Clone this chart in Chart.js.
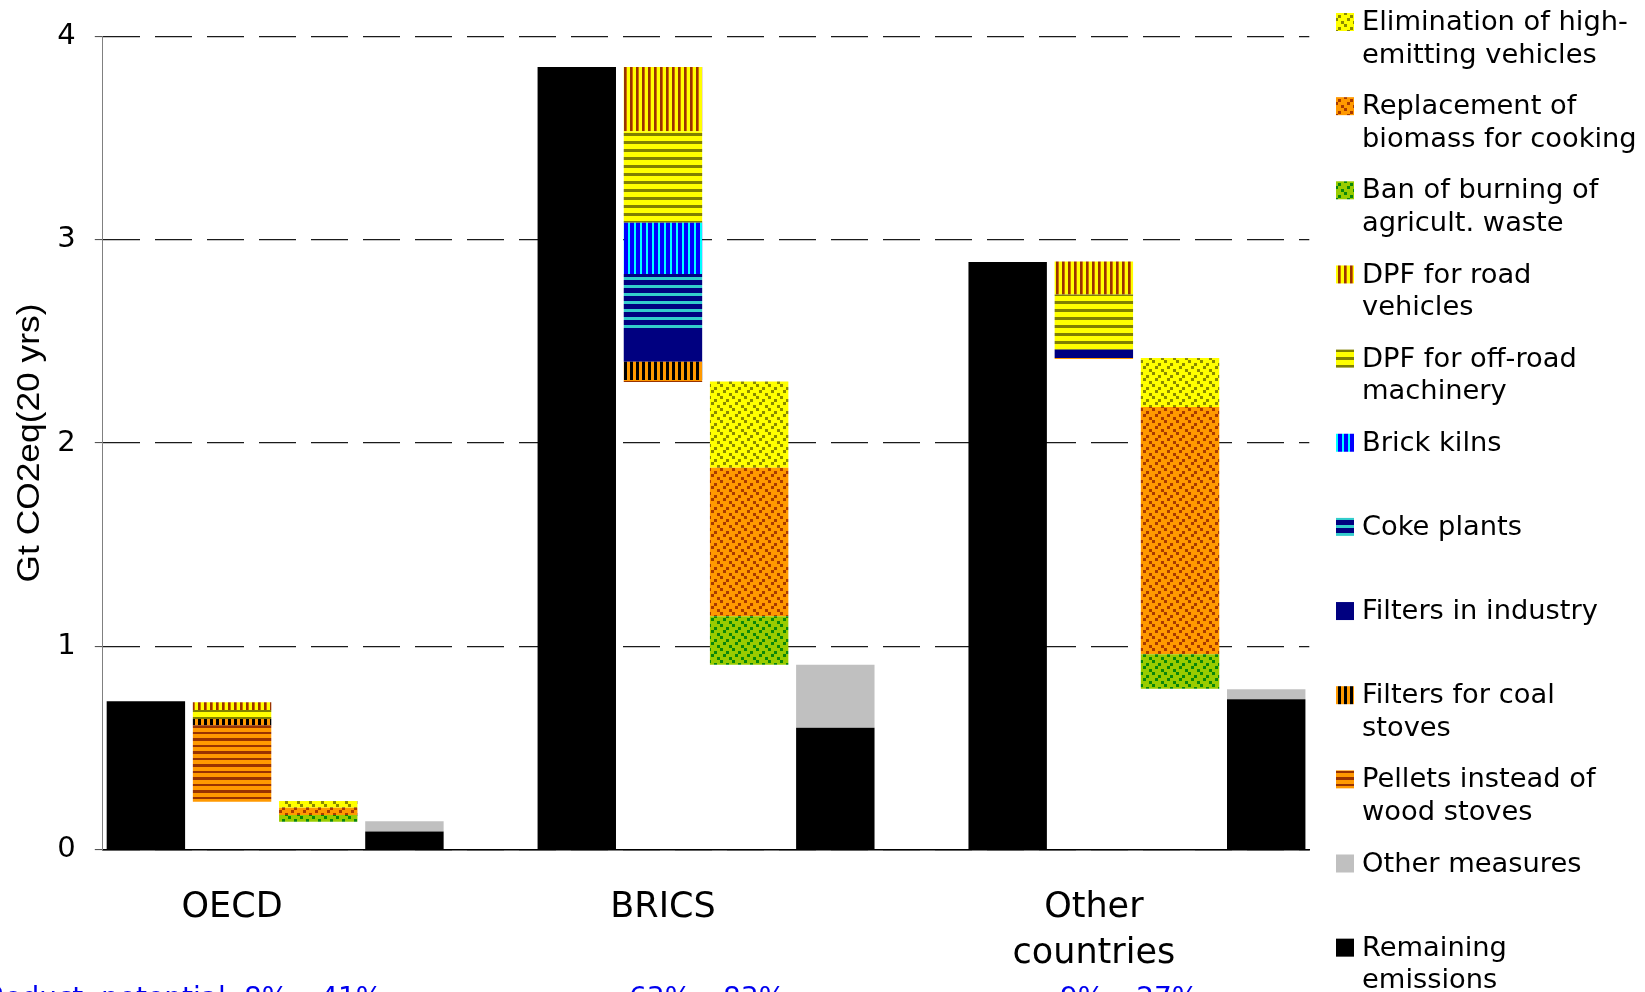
<!DOCTYPE html>
<html>
<head>
<meta charset="utf-8">
<script src="https://cdn.jsdelivr.net/npm/chart.js@4.4.1/dist/chart.umd.min.js"></script>
<style>
  html, body { margin: 0; padding: 0; background: #fff; overflow: hidden; }
  #wrap { width: 1645px; height: 992px; position: relative; }
</style>
</head>
<body>
<div id="wrap"><canvas id="c" width="1645" height="992"></canvas></div>
<script>
// 14 slots: four bars per region, one empty slot between regions.
const categories = ['', 'OECD', '', '', '', '', 'BRICS', '', '', '', '', ['Other', 'countries'], '', ''];
const yTicks = [0, 1, 2, 3, 4];

// Invisible offset under the floating (waterfall) segments, Gt CO2eq
const offset      = [null, 0.236, 0.138, null, null, null, 2.30, 0.91, null, null, null, 2.413, 0.792, null];
// Series values, Gt CO2eq (20 yrs)
const remaining   = [0.73, null, null, 0.09, null, 3.85, null, null, 0.60, null, 2.89, null, null, 0.74];
const otherMeas   = [null, null, null, 0.05, null, null, null, null, 0.31, null, null, null, null, 0.05];
const pellets     = [null, 0.377, null, null, null, null, 0.010, null, null, null, null, 0.005, null, null];
const coalStoves  = [null, 0.030, null, null, null, null, 0.090, null, null, null, null, null, null, null];
const industry    = [null, null, null, null, null, null, 0.156, null, null, null, null, 0.041, null, null];
const cokePlants  = [null, null, null, null, null, null, 0.275, null, null, null, null, null, null, null];
const brickKilns  = [null, null, null, null, null, null, 0.252, null, null, null, null, null, null, null];
const dpfOffRoad  = [null, 0.044, null, null, null, null, 0.450, null, null, null, null, 0.272, null, null];
const dpfRoad     = [null, 0.039, null, null, null, null, 0.316, null, null, null, null, 0.162, null, null];
const banAgri     = [null, null, 0.033, null, null, null, null, 0.239, null, null, null, null, 0.170, null];
const biomassCook = [null, null, 0.036, null, null, null, null, 0.730, null, null, null, null, 1.215, null];
const highEmitVeh = [null, null, 0.033, null, null, null, null, 0.424, null, null, null, null, 0.241, null];

const potentialTexts = ['Reduct. potential: 8% \u2013 41%', '63% \u2013 83%', '9% \u2013 27%'];

// ---- fill patterns ----
function makeTile(w, h, paint) {
  const t = document.createElement('canvas');
  t.width = w; t.height = h;
  paint(t.getContext('2d'));
  return t.getContext('2d').createPattern(t, 'repeat');
}
function stripes(vertical, bands) {
  const total = bands.reduce((s, b) => s + b[1], 0);
  return makeTile(vertical ? total : 8, vertical ? 8 : total, g => {
    let p = 0;
    for (const [col, n] of bands) {
      g.fillStyle = col;
      if (vertical) g.fillRect(p, 0, n, 8); else g.fillRect(0, p, 8, n);
      p += n;
    }
  });
}
function confetti(bg, fg) {
  return makeTile(12, 12, g => {
    g.fillStyle = bg; g.fillRect(0, 0, 12, 12);
    g.fillStyle = fg;
    for (const [x, y] of [[0, 0], [6, 3], [3, 6], [9, 9]]) g.fillRect(x, y, 3, 3);
  });
}

const fills = {
  highEmit: confetti('#ffff00', '#8a8a00'),
  biomass:  confetti('#ff9900', '#a83a00'),
  ban:      confetti('#99cc00', '#0a860a'),
  road:     stripes(true,  [['#993300', 2], ['#d07000', 1], ['#ffff00', 3]]),
  offRoad:  stripes(false, [['#ffff00', 5], ['#808000', 3]]),
  brick:    stripes(true,  [['#0000ff', 4], ['#00ffff', 2]]),
  coke:     stripes(false, [['#000080', 5], ['#33cccc', 3]]),
  industry: '#000080',
  coal:     stripes(true,  [['#000000', 3], ['#ff9900', 3]]),
  pellets:  stripes(false, [['#ff9900', 4], ['#993300', 2], ['#ff9900', 4], ['#993300', 3]]),
  other:    '#c0c0c0',
  remain:   '#000000'
};

// stacking order, bottom first
const series = [
  { label: ['Remaining', 'emissions'],                  data: remaining,   fill: fills.remain },
  { label: ['Other measures'],                          data: otherMeas,   fill: fills.other },
  { label: ['Pellets instead of', 'wood stoves'],       data: pellets,     fill: fills.pellets },
  { label: ['Filters for coal', 'stoves'],              data: coalStoves,  fill: fills.coal },
  { label: ['Filters in industry'],                     data: industry,    fill: fills.industry },
  { label: ['Coke plants'],                             data: cokePlants,  fill: fills.coke },
  { label: ['Brick kilns'],                             data: brickKilns,  fill: fills.brick },
  { label: ['DPF for off-road', 'machinery'],           data: dpfOffRoad,  fill: fills.offRoad },
  { label: ['DPF for road', 'vehicles'],                data: dpfRoad,     fill: fills.road },
  { label: ['Ban of burning of', 'agricult. waste'],    data: banAgri,     fill: fills.ban },
  { label: ['Replacement of', 'biomass for cooking'],   data: biomassCook, fill: fills.biomass },
  { label: ['Elimination of high-', 'emitting vehicles'], data: highEmitVeh, fill: fills.highEmit }
];

const datasets = [{
  label: 'offset', data: offset, backgroundColor: 'rgba(0,0,0,0)', stack: 's', isOffset: true
}].concat(series.map(s => ({
  label: s.label.join(' '), lines: s.label, data: s.data, backgroundColor: s.fill, stack: 's'
})));

// Legend, axis title and footnote drawn on the chart canvas
const annotations = {
  id: 'annotations',
  afterDraw(chart) {
    const ctx = chart.ctx;
    ctx.save();
    // legend: top item is the last series
    const items = chart.data.datasets.filter(d => !d.isOffset).slice().reverse();
    ctx.font = '27.3px "DejaVu Sans"';
    ctx.textBaseline = 'middle';
    ctx.textAlign = 'left';
    items.forEach((d, i) => {
      const cy = 23 + i * 84.15;
      ctx.fillStyle = d.backgroundColor;
      ctx.fillRect(1336, cy - 10, 18, 18);
      ctx.fillStyle = '#000';
      d.lines.forEach((ln, j) => ctx.fillText(ln, 1362, cy + j * 32.5));
    });
    // y axis title
    const title = 'Gt CO2eq(20 yrs)';
    ctx.translate(30.5, 443);
    ctx.rotate(-Math.PI / 2);
    ctx.font = '32px "Liberation Sans"';
    const w = ctx.measureText(title).width;
    ctx.scale(279 / w, 1);
    ctx.textAlign = 'center';
    ctx.fillText(title, 0, 0);
    ctx.restore();
    // reduction potential line along the bottom edge
    ctx.save();
    ctx.fillStyle = '#0000ee';
    ctx.font = '28px "DejaVu Sans"';
    ctx.textBaseline = 'alphabetic';
    ctx.textAlign = 'left';
    const xs = [-14, 629, 1060];
    potentialTexts.forEach((t, i) => ctx.fillText(t, xs[i], 1007));
    ctx.restore();
  }
};

new Chart(document.getElementById('c'), {
  type: 'bar',
  data: { labels: categories, datasets },
  options: {
    responsive: false,
    devicePixelRatio: 1,
    animation: false,
    events: [],
    layout: { padding: { left: 0, right: 335.7, top: 35.7, bottom: 0 } },
    datasets: { bar: { barPercentage: 0.91, categoryPercentage: 1.0, borderWidth: 0 } },
    plugins: { legend: { display: false }, tooltip: { enabled: false } },
    scales: {
      x: {
        stacked: true,
        afterFit(s) { s.height = 142.2; },
        grid: { display: false, drawTicks: false },
        border: { display: true, color: '#000', width: 1.5 },
        ticks: {
          autoSkip: false, maxRotation: 0, minRotation: 0, padding: 35.6, color: '#000',
          font: { family: 'DejaVu Sans', size: 35, lineHeight: 1.31 }
        }
      },
      y: {
        stacked: true,
        min: yTicks[0], max: yTicks[yTicks.length - 1],
        afterFit(s) { s.width = 102.8; },
        afterBuildTicks(s) { s.ticks = yTicks.map(v => ({ value: v })); },
        grid: { color: '#1a1a1a', lineWidth: 1.2, drawTicks: true, tickLength: 8, tickColor: '#444', tickWidth: 1 },
        border: { display: true, color: '#808080', width: 1, dash: [37, 15], dashOffset: 0 },
        ticks: { padding: 19, color: '#000', font: { family: 'DejaVu Sans', size: 29 } }
      }
    }
  },
  plugins: [annotations]
});
</script>
</body>
</html>
